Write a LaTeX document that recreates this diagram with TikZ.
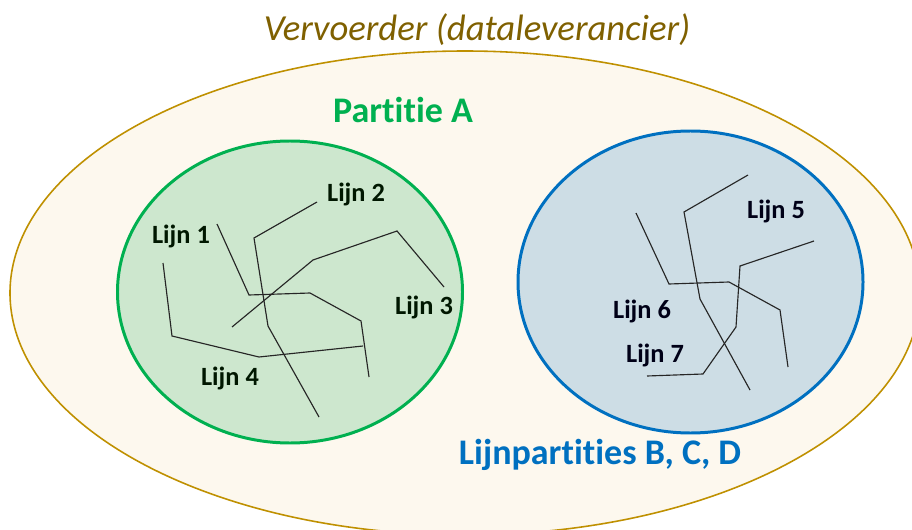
\documentclass[tikz,border=0pt]{standalone}
\usepackage{fontspec}
\setmainfont{Carlito}[Ligatures=NoCommon]
\definecolor{goldline}{HTML}{BF9000}
\definecolor{goldfill}{HTML}{FDF8EE}
\definecolor{titlebrown}{HTML}{7F6000}
\definecolor{greenline}{HTML}{00B050}
\definecolor{greenfill}{HTML}{CDE7CE}
\definecolor{blueline}{HTML}{0070C0}
\definecolor{bluefill}{HTML}{CDDDE5}

\begin{document}
\begin{tikzpicture}
  [x=0.02cm, y=-0.02cm,
   lijn/.style={draw=black!85, line width=0.65pt},
   lijn label/.style={font=\bfseries\fontsize{15}{18}\selectfont, text=black!85!green!60!black},
   lijn label blue/.style={font=\bfseries\fontsize{15}{18}\selectfont, text=black!85!blue!60!black},
   heading/.style={font=\bfseries\fontsize{20.5}{24}\selectfont}]
  \useasboundingbox (0, 0) rectangle (912, 530);
  \begin{scope}
    \clip (0, 0) rectangle (912, 530);
    \draw[draw=goldline, fill=goldfill, line width=0.9pt] (465, 293) ellipse [x radius=455, y radius=242];
  \end{scope}
  \node (vervoerder) at (477, 30) [font=\itshape\fontsize{20.9}{25}\selectfont, text=titlebrown] {Vervoerder (dataleverancier)};

  % partitie A
  \draw[draw=greenline, fill=greenfill, line width=1.7pt] (290, 292) ellipse [x radius=172.5, y radius=151];
  \node (partitieA) at (403, 110) [heading, text=greenline] {Partitie A};
  \draw[lijn] (217, 224) -- (249, 295) -- (310, 293) -- (361, 321) -- (369, 377);
  \draw[lijn] (317, 202) -- (254, 238) -- (268, 326) -- (319, 417);
  \draw[lijn] (444, 287) -- (397, 231) -- (313, 260) -- (232, 327);
  \draw[lijn] (163, 263) -- (172, 336) -- (259, 357) -- (363, 346);
  \node (lijn1) at (181, 236) [lijn label] {Lijn 1};
  \node (lijn2) at (356, 194) [lijn label] {Lijn 2};
  \node (lijn3) at (424, 307) [lijn label] {Lijn 3};
  \node (lijn4) at (230, 378) [lijn label] {Lijn 4};

  % lijnpartities B, C, D
  \draw[draw=blueline, fill=bluefill, line width=1.7pt] (690.5, 282) ellipse [x radius=172.5, y radius=151];
  \node (partitieB) at (600, 455) [heading, text=blueline] {Lijnpartities B, C, D};
  \draw[lijn] (748, 175) -- (684, 212) -- (700, 299) -- (750, 390);
  \draw[lijn] (636, 213) -- (669, 284) -- (729, 282) -- (780, 310) -- (788, 367);
  \draw[lijn] (814, 241) -- (740, 266) -- (736, 327) -- (703, 374) -- (647, 376);
  \node (lijn5) at (776, 211) [lijn label blue] {Lijn 5};
  \node (lijn6) at (642, 311) [lijn label blue] {Lijn 6};
  \node (lijn7) at (655, 355) [lijn label blue] {Lijn 7};
\end{tikzpicture}
\end{document}
